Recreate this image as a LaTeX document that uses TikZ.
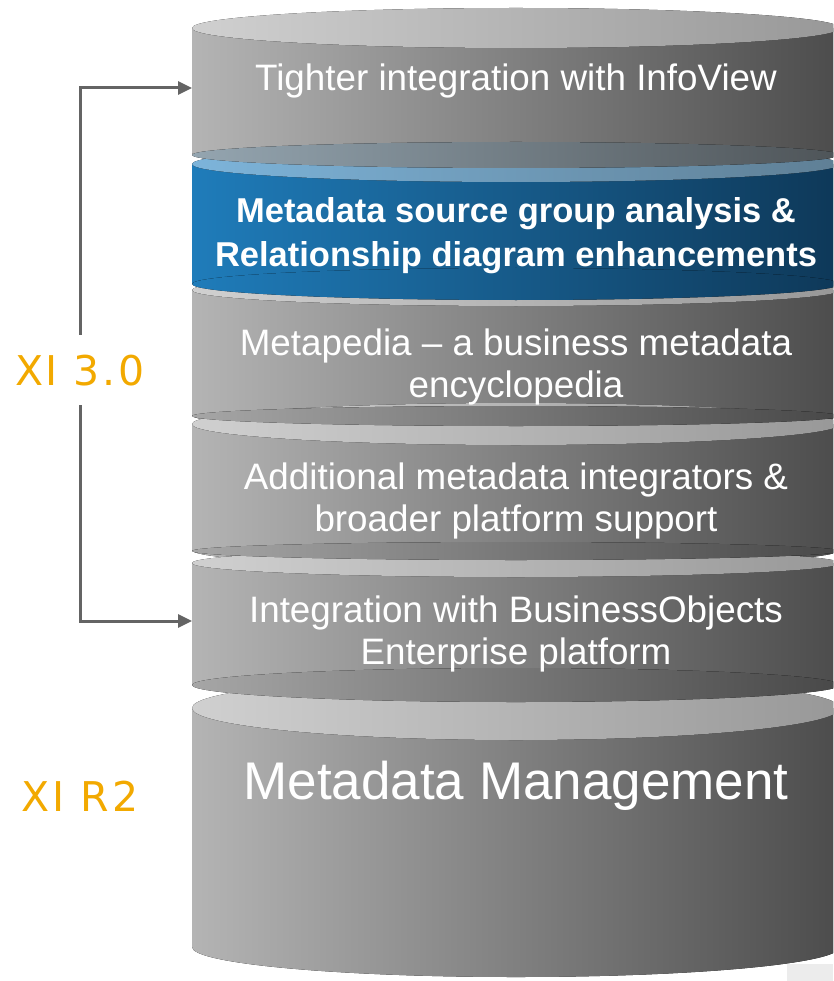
\documentclass[tikz,border=0pt]{standalone}
\usepackage{fontspec}
\setmainfont{Liberation Sans}
\newfontfamily\relfont[LetterSpace=7]{DejaVu Sans}
\usetikzlibrary{arrows.meta}
\definecolor{relorange}{RGB}{242,169,0}
\definecolor{linegray}{RGB}{100,100,100}
\tikzstyle{graybody} = [left color={rgb,255:red,180;green,180;blue,180}, middle color={rgb,255:red,148;green,148;blue,148}, right color={rgb,255:red,76;green,76;blue,76}]
\tikzstyle{bluebody} = [left color={rgb,255:red,31;green,124;blue,186}, middle color={rgb,255:red,24;green,104;blue,156}, right color={rgb,255:red,14;green,56;blue,88}]
\tikzstyle{grayrim} = [left color={rgb,255:red,208;green,208;blue,208}, middle color={rgb,255:red,194;green,194;blue,194}, right color={rgb,255:red,152;green,152;blue,152}]
\tikzstyle{graycap} = [left color={rgb,255:red,166;green,166;blue,166}, middle color={rgb,255:red,130;green,130;blue,130}, right color={rgb,255:red,72;green,72;blue,72}]
\tikzstyle{bluerim} = [left color={rgb,255:red,125;green,180;blue,218}, middle color={rgb,255:red,110;green,160;blue,194}, right color={rgb,255:red,95;green,127;blue,149}]
\tikzstyle{bluecap} = [left color={rgb,255:red,148;green,165;blue,176}, middle color={rgb,255:red,122;green,136;blue,144}, right color={rgb,255:red,78;green,84;blue,88}]
\tikzstyle{layertext} = [text=white, align=center, font=\fontsize{36.8}{42.5}\selectfont]
\tikzstyle{boldtext} = [text=white, align=center, font=\fontsize{34.5}{44}\selectfont\bfseries]
\tikzstyle{release} = [text=relorange, font=\relfont\fontsize{41}{41}\selectfont, text height=30pt, text depth=0pt, inner xsep=0pt, inner ysep=20pt]
\tikzstyle{arrow} = [draw=linegray, line width=3pt, ->, >={Triangle[length=14pt,width=13pt]}]

\begin{document}
\begin{tikzpicture}[x=1pt, y=-1pt]
  \useasboundingbox (0,0) rectangle (833,981);
  \clip (0,0) rectangle (833,981);
  \fill[color={rgb,255:red,236;green,236;blue,236}] (787,964) rectangle (833,981);

  % top layer
  \fill[graybody] (192,28) -- (192,153) arc[start angle=180, end angle=360, x radius=324pt, y radius=20pt] -- (840,28) -- cycle;
  \fill[grayrim] (516,28) ellipse [x radius=324pt, y radius=20pt];
  % blue layer
  \fill[bluebody] (192,164) -- (192,283) arc[start angle=180, end angle=360, x radius=324pt, y radius=16pt] -- (840,164) -- cycle;
  \fill[bluerim] (516,164) ellipse [x radius=324pt, y radius=18pt];
  \fill[bluecap] (516,155) ellipse [x radius=324pt, y radius=13pt];
  % middle layers: top y / rim radius / upper bottom y / cap radius / bottom y
  \foreach \yc/\ry/\yu/\cy/\yb in {290/16/284/16/415, 424/21/416/10/550, 563/14/551/9/684} {
    \fill[graybody] (192,\yc) -- (192,\yb) arc[start angle=180, end angle=360, x radius=324pt, y radius=17pt] -- (840,\yc) -- cycle;
    \fill[grayrim] (516,\yc) ellipse [x radius=324pt, y radius=\ry pt];
    \ifnum\yu=284
      \fill[bluebody] (516,\yu) ellipse [x radius=324pt, y radius=\cy pt];
    \else
      \fill[graycap] (516,\yu) ellipse [x radius=324pt, y radius=\cy pt];
    \fi
  }
  % base
  \fill[graybody] (192,708) -- (192,947) arc[start angle=180, end angle=360, x radius=324pt, y radius=30pt] -- (840,708) -- cycle;
  \fill[grayrim] (516,708) ellipse [x radius=324pt, y radius=32pt];
  \fill[graycap] (516,685) ellipse [x radius=324pt, y radius=17pt];

  \node (infoview) [layertext] at (516,81) {Tighter integration with InfoView};
  \node (srcgroup) [boldtext] at (516,236) {Metadata source group analysis \&\\Relationship diagram enhancements};
  \node (metapedia) [layertext] at (516,367) {Metapedia -- a business metadata\\encyclopedia};
  \node (integrators) [layertext] at (516,501) {Additional metadata integrators \&\\broader platform support};
  \node (boeplatform) [layertext] at (516,634) {Integration with BusinessObjects\\Enterprise platform};
  \node (mdm) [text=white, font=\fontsize{53}{60}\selectfont] at (516,786) {Metadata Management};

  \node (xi30) [release] at (80,370) {XI 3.0};
  \node (xir2) [release] at (80,796) {XI R2};
  \coordinate (tophead) at (192,88);
  \coordinate (bothead) at (192,621);

  \draw [arrow] (xi30.north) |- (tophead);
  \draw [arrow] (xi30.south) |- (bothead);
\end{tikzpicture}
\end{document}
